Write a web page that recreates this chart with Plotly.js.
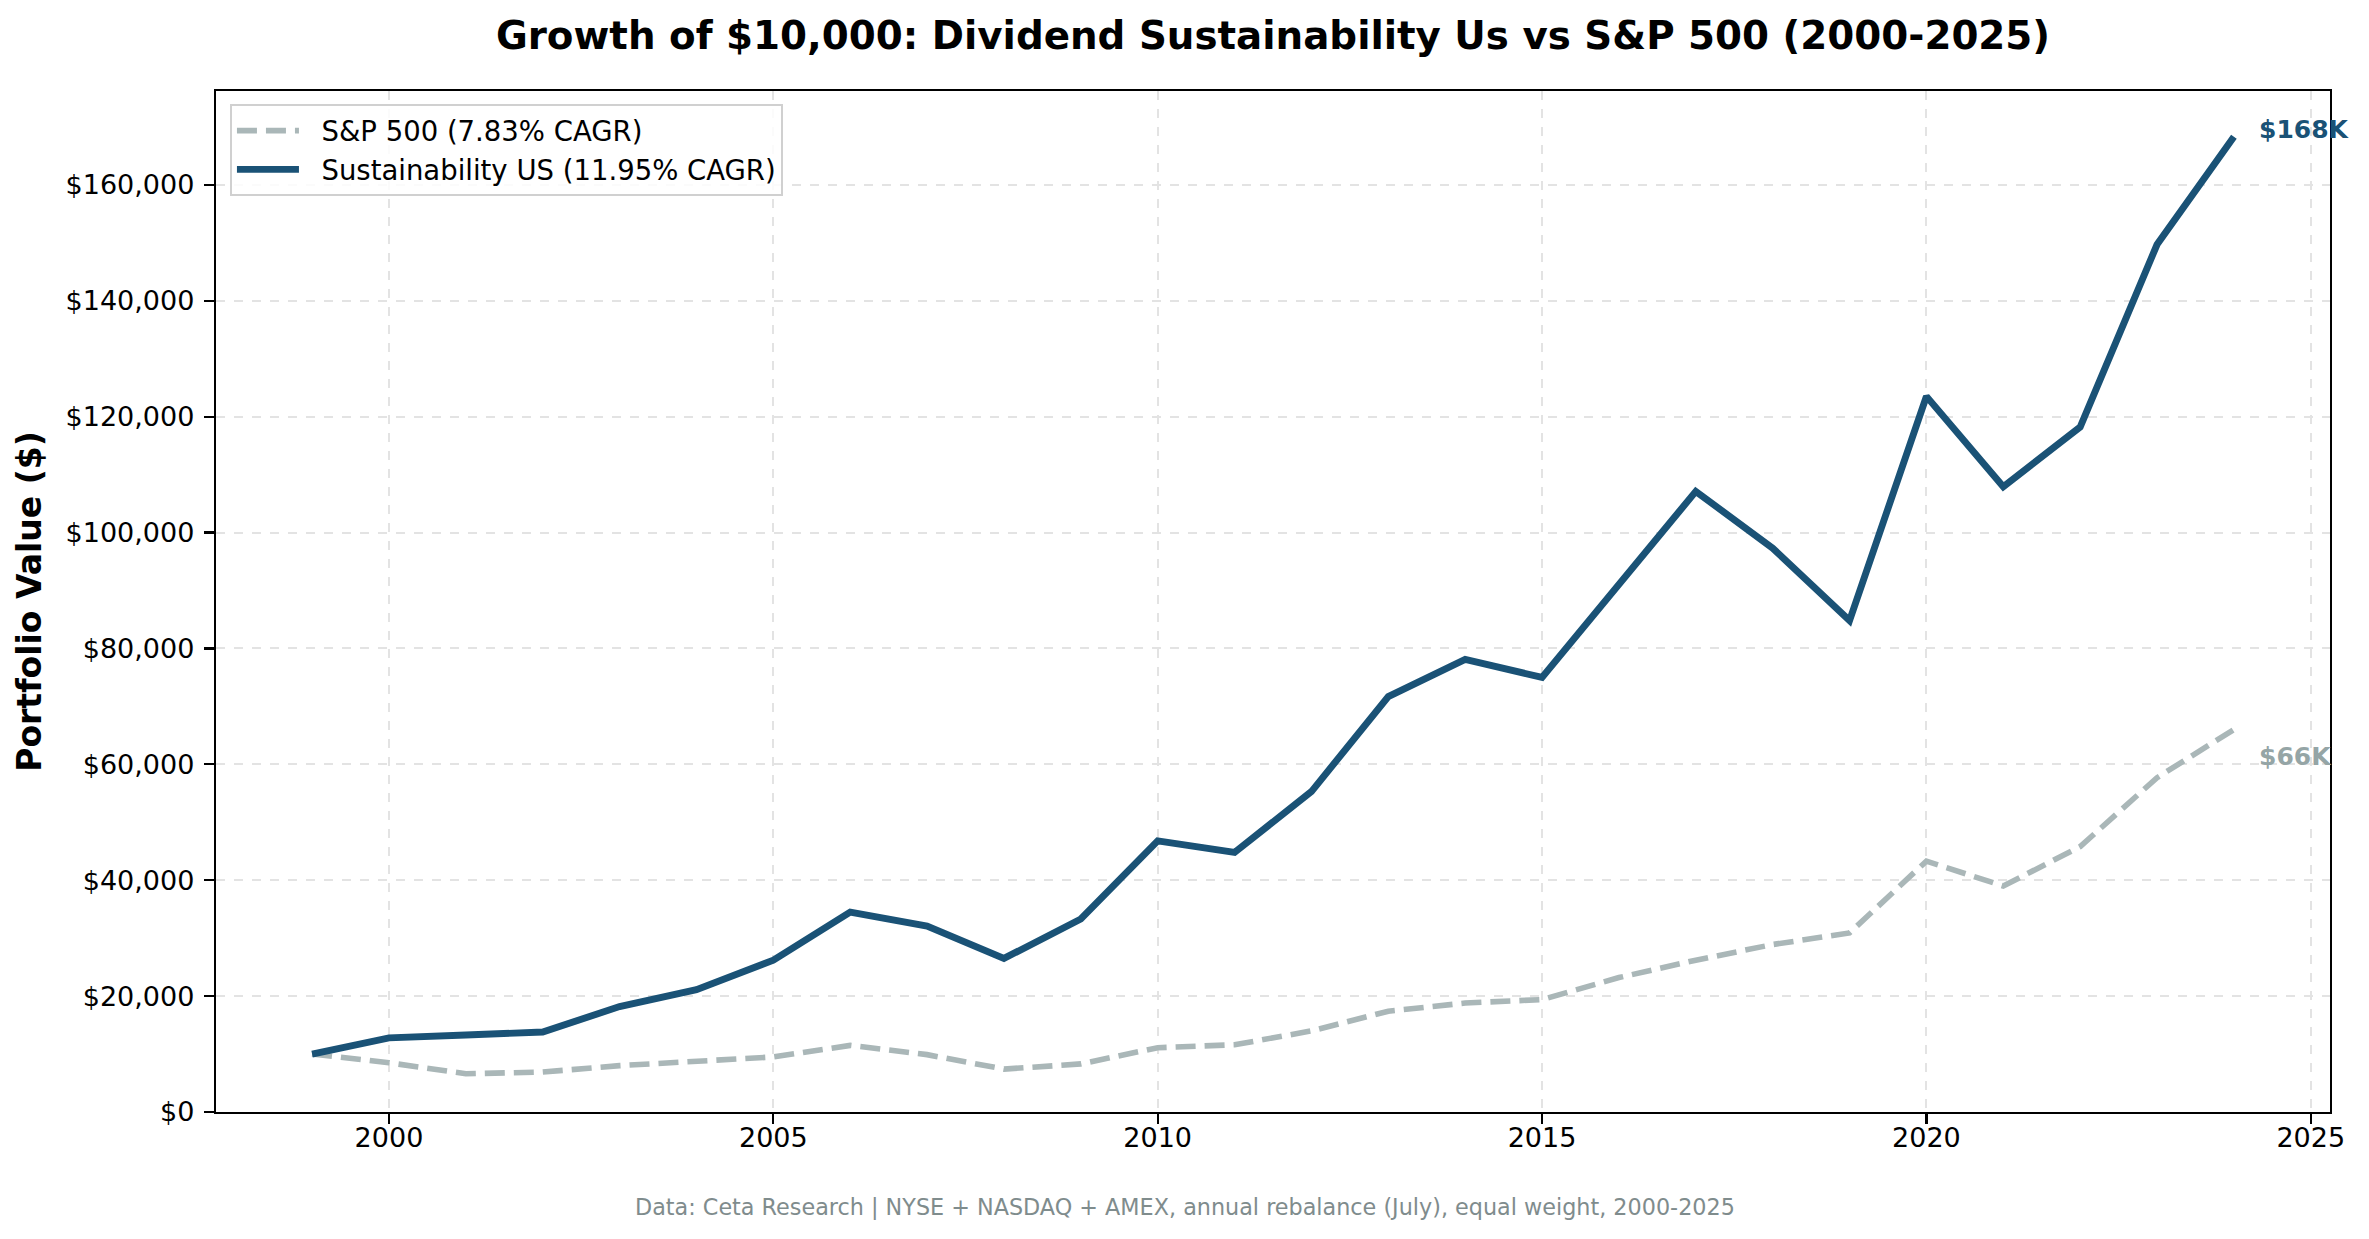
<!DOCTYPE html>
<html>
<head>
<meta charset="utf-8">
<script src="https://cdn.plot.ly/plotly-3.0.1.min.js"></script>
<style>
  html, body { margin: 0; padding: 0; background: #ffffff; }
  #chart { width: 2369px; height: 1239px; }
</style>
</head>
<body>
<div id="chart"></div>
<script>
// ---- Data ----
const years = [1999, 2000, 2001, 2002, 2003, 2004, 2005, 2006, 2007, 2008, 2009, 2010, 2011,
               2012, 2013, 2014, 2015, 2016, 2017, 2018, 2019, 2020, 2021, 2022, 2023, 2024];
const sustainabilityValues = [10000, 12800, 13300, 13800, 18200, 21100, 26200, 34500, 32100, 26500, 33300, 46800, 44800,
                              55300, 71700, 78100, 75000, 91000, 107100, 97300, 84800, 123500, 107900, 118200, 149700, 168300];
const sp500Values = [10000, 8500, 6600, 6900, 8000, 8700, 9500, 11500, 9900, 7400, 8300, 11100, 11600,
                     14000, 17400, 18800, 19400, 23200, 26200, 28900, 30900, 43300, 39000, 45800, 57700, 66000];
const seriesNames = ["S&P 500 (7.83% CAGR)", "Sustainability US (11.95% CAGR)"];
const endLabels = ["$66K", "$168K"];
const xTickVals = [2000, 2005, 2010, 2015, 2020, 2025];
const yTickVals = [0, 20000, 40000, 60000, 80000, 100000, 120000, 140000, 160000];

const BLUE = "#1a5276";
const GRAY = "#aab7b8";
const FONT = "DejaVu Sans, Liberation Sans, sans-serif";

const traces = [
  {
    x: years, y: sp500Values, type: "scatter", mode: "lines", name: "\u00a0\u00a0" + seriesNames[0],
    line: { color: GRAY, width: 5.6, dash: "20px,9px" }, hoverinfo: "skip"
  },
  {
    x: years, y: sustainabilityValues, type: "scatter", mode: "lines", name: "\u00a0\u00a0" + seriesNames[1],
    line: { color: BLUE, width: 6.9 }, hoverinfo: "skip"
  }
];

const lastIdx = years.length - 1;

const layout = {
  width: 2369, height: 1239,
  paper_bgcolor: "#ffffff", plot_bgcolor: "#ffffff",
  margin: { l: 216, r: 39, t: 91, b: 127 },
  font: { family: FONT, color: "#000000", size: 27 },
  title: {
    text: "Growth of $10,000: Dividend Sustainability Us vs S&P 500 (2000-2025)",
    font: { family: FONT, size: 38.8, weight: "bold", color: "#000000" },
    x: 0.5, xanchor: "center", xref: "paper",
    y: 1 - 35 / 1239, yanchor: "middle", yref: "container"
  },
  showlegend: true,
  legend: {
    x: 0.0066, y: 0.987, xanchor: "left", yanchor: "top",
    bgcolor: "rgba(255,255,255,0.85)", bordercolor: "#d0d0d0", borderwidth: 2,
    font: { family: FONT, size: 27.5, color: "#000000" },
    itemwidth: 62,
    tracegroupgap: 0
  },
  xaxis: {
    range: [1997.75, 2025.25],
    tickmode: "array", tickvals: xTickVals, ticktext: xTickVals.map(String),
    ticks: "outside", ticklen: 10, tickwidth: 2.2, tickcolor: "#000000",
    ticklabelstandoff: -10,
    showline: true, linecolor: "#000000", linewidth: 2.2, mirror: true,
    showgrid: true, gridcolor: "#e3e3e3", griddash: "dash", gridwidth: 2,
    zeroline: false,
    tickfont: { family: FONT, size: 27, color: "#000000" }
  },
  yaxis: {
    range: [0, 176200],
    tickmode: "array", tickvals: yTickVals,
    ticktext: yTickVals.map(v => "$" + v.toLocaleString("en-US")),
    ticks: "outside", ticklen: 10, tickwidth: 2.2, tickcolor: "#000000",
    ticklabelstandoff: 4,
    showline: true, linecolor: "#000000", linewidth: 2.2, mirror: true,
    showgrid: true, gridcolor: "#e3e3e3", griddash: "dash", gridwidth: 2,
    zeroline: false,
    tickfont: { family: FONT, size: 27, color: "#000000" },
    title: {
      text: "Portfolio Value ($)",
      font: { family: FONT, size: 33, weight: "bold", color: "#000000" },
      standoff: 14
    }
  },
  annotations: [
    {
      x: years[lastIdx], y: sustainabilityValues[lastIdx], xref: "x", yref: "y",
      text: endLabels[1], showarrow: false, xanchor: "left", yanchor: "middle",
      xshift: 23, yshift: 7,
      font: { family: FONT, size: 25, weight: "bold", color: BLUE }
    },
    {
      x: years[lastIdx], y: sp500Values[lastIdx], xref: "x", yref: "y",
      text: endLabels[0], showarrow: false, xanchor: "left", yanchor: "middle",
      xshift: 23, yshift: -27,
      font: { family: FONT, size: 25, weight: "bold", color: "#95a5a6" }
    },
    {
      x: (1184.5 - 216) / 2114, y: -(1207 - 1112) / 1021, xref: "paper", yref: "paper",
      text: "Data: Ceta Research | NYSE + NASDAQ + AMEX, annual rebalance (July), equal weight, 2000-2025",
      showarrow: false, xanchor: "center", yanchor: "middle",
      font: { family: FONT, size: 22.3, color: "#7f8c8d" }
    }
  ]
};

Plotly.newPlot("chart", traces, layout, { displayModeBar: false, staticPlot: true });
</script>
</body>
</html>
